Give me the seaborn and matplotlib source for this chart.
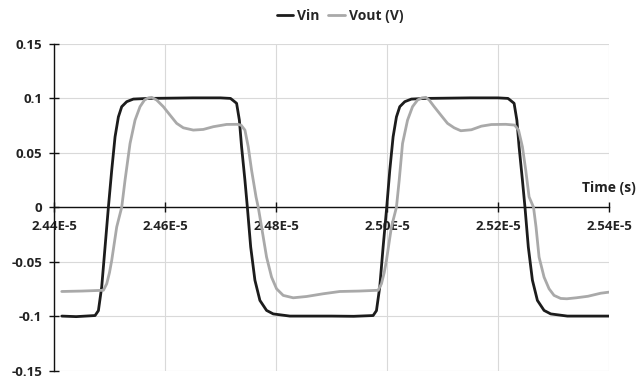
import matplotlib
matplotlib.use("Agg")
import matplotlib.pyplot as plt
import numpy as np
import pandas as pd
import seaborn as sns

# ---- measured waveforms (time in microseconds, voltage in volts) ----
vin_time_us = [
    24.414, 24.440, 24.474, 24.480, 24.486, 24.492, 24.498, 24.504, 24.510,
    24.516, 24.522, 24.531, 24.543, 24.570, 24.650, 24.700, 24.718, 24.723,
    24.729, 24.734, 24.738, 24.744, 24.7484, 24.7544, 24.762, 24.771, 24.783,
    24.795, 24.825, 24.900, 24.940, 24.975, 24.981, 24.987, 24.993, 24.9995,
    25.005, 25.011, 25.017, 25.023, 25.032, 25.044, 25.070, 25.150, 25.200,
    25.218, 25.223, 25.229, 25.234, 25.238, 25.244, 25.2486, 25.2546, 25.262,
    25.271, 25.283, 25.295, 25.325, 25.400,
]
vin_volt = [
    -0.1000, -0.1005, -0.0995, -0.0950, -0.0730, -0.0365, 0.0000, 0.0340, 0.0647,
    0.0830, 0.0924, 0.0970, 0.0994, 0.1000, 0.1005, 0.1005, 0.1000, 0.0980,
    0.0955, 0.0800, 0.0555, 0.0249, 0.0000, -0.0365, -0.0670, -0.0856, -0.0948,
    -0.0980, -0.1000, -0.1000, -0.1002, -0.0995, -0.0950, -0.0730, -0.0365, 0.0000,
    0.0340, 0.0647, 0.0830, 0.0924, 0.0970, 0.0994, 0.1000, 0.1005, 0.1005,
    0.1000, 0.0980, 0.0955, 0.0800, 0.0555, 0.0249, 0.0000, -0.0365, -0.0670,
    -0.0856, -0.0948, -0.0980, -0.1000, -0.1000,
]

vout_time_us = [
    24.414, 24.450, 24.489, 24.495, 24.500, 24.504, 24.513, 24.522, 24.528,
    24.537, 24.546, 24.555, 24.563, 24.570, 24.576, 24.585, 24.597, 24.609,
    24.621, 24.633, 24.651, 24.669, 24.687, 24.711, 24.730, 24.737, 24.744,
    24.750, 24.756, 24.764, 24.768, 24.774, 24.783, 24.792, 24.801, 24.813,
    24.831, 24.855, 24.885, 24.915, 24.950, 24.984, 24.990, 24.995, 24.999,
    25.008, 25.017, 25.022, 25.028, 25.037, 25.046, 25.055, 25.063, 25.070,
    25.076, 25.085, 25.097, 25.109, 25.121, 25.133, 25.152, 25.170, 25.188,
    25.214, 25.230, 25.237, 25.244, 25.250, 25.256, 25.264, 25.2685, 25.274,
    25.283, 25.292, 25.301, 25.313, 25.324, 25.341, 25.362, 25.385, 25.400,
]
vout_volt = [
    -0.0774, -0.0770, -0.0763, -0.0703, -0.0600, -0.0488, -0.0181, 0.0000, 0.0249,
    0.0586, 0.0800, 0.0924, 0.0985, 0.1005, 0.1010, 0.0985, 0.0924, 0.0847,
    0.0771, 0.0730, 0.0709, 0.0715, 0.0740, 0.0761, 0.0762, 0.0755, 0.0709,
    0.0555, 0.0340, 0.0095, 0.0000, -0.0181, -0.0458, -0.0642, -0.0749, -0.0810,
    -0.0832, -0.0820, -0.0795, -0.0774, -0.0770, -0.0763, -0.0703, -0.0600, -0.0488,
    -0.0181, 0.0000, 0.0249, 0.0586, 0.0800, 0.0924, 0.0985, 0.1005, 0.1010,
    0.0985, 0.0924, 0.0847, 0.0771, 0.0730, 0.0703, 0.0712, 0.0745, 0.0760,
    0.0762, 0.0755, 0.0709, 0.0555, 0.0340, 0.0095, 0.0000, -0.0181, -0.0458,
    -0.0642, -0.0749, -0.0810, -0.0838, -0.0841, -0.0832, -0.0818, -0.0790, -0.0780,
]

series_names = ["Vin", "Vout (V)"]
series_colors = ["#1c1c1c", "#a9a9a9"]

x_ticks = [2.44e-5, 2.46e-5, 2.48e-5, 2.50e-5, 2.52e-5, 2.54e-5]
x_tick_labels = ["2.44E-5", "2.46E-5", "2.48E-5", "2.50E-5", "2.52E-5", "2.54E-5"]
y_ticks = [-0.15, -0.1, -0.05, 0, 0.05, 0.1, 0.15]
y_tick_labels = ["-0.15", "-0.1", "-0.05", "0", "0.05", "0.1", "0.15"]

# ---- long-form table for seaborn ----
df = pd.concat([
    pd.DataFrame({"time": np.array(vin_time_us) * 1e-6, "volt": vin_volt,
                  "signal": series_names[0]}),
    pd.DataFrame({"time": np.array(vout_time_us) * 1e-6, "volt": vout_volt,
                  "signal": series_names[1]}),
], ignore_index=True)

sns.set_theme(style="white")
plt.rcParams["font.family"] = ["Open Sans", "DejaVu Sans"]

fig = plt.figure(figsize=(6.36, 3.8), dpi=100)
ax = fig.add_axes([54 / 636, 9.5 / 380, 555 / 636, 326.5 / 380])

sns.lineplot(data=df, x="time", y="volt", hue="signal",
             palette=dict(zip(series_names, series_colors)),
             estimator=None, sort=False, linewidth=2.0, ax=ax, legend=False)

ax.set_xlim(x_ticks[0], x_ticks[-1])
ax.set_ylim(y_ticks[0], y_ticks[-1])
ax.set_xticks(x_ticks, x_tick_labels)
ax.set_yticks(y_ticks, y_tick_labels)
ax.set_xlabel("")
ax.set_ylabel("")

ax.grid(True, color="#d9d9d9", linewidth=0.8)
ax.set_axisbelow(True)

for side in ("top", "right"):
    ax.spines[side].set_visible(False)
ax.spines["bottom"].set_position(("data", 0))
for side in ("bottom", "left"):
    ax.spines[side].set_color("#111111")
    ax.spines[side].set_linewidth(1.0)
    ax.spines[side].set_zorder(1.5)

ax.tick_params(axis="both", which="major", bottom=True, left=True,
               direction="inout", length=7, width=1.0, color="#111111",
               labelsize=9.5, labelcolor="#222222")
ax.tick_params(axis="x", pad=6)
ax.tick_params(axis="y", pad=5)
for lbl in ax.get_xticklabels() + ax.get_yticklabels():
    lbl.set_fontweight("bold")

fig.text(636 / 636, 1 - 188 / 380, "Time (s)", ha="right", va="center",
         fontsize=10, fontweight="bold", color="#222222")

handles = ax.get_lines()[:2]
fig.legend(handles, series_names, loc="center", bbox_to_anchor=(340 / 636, 1 - 16 / 380),
           ncol=2, frameon=False, handlelength=1.2, handletextpad=0.3,
           columnspacing=0.6, prop={"size": 10, "weight": "bold"})

fig.savefig("out.png", dpi=100)
